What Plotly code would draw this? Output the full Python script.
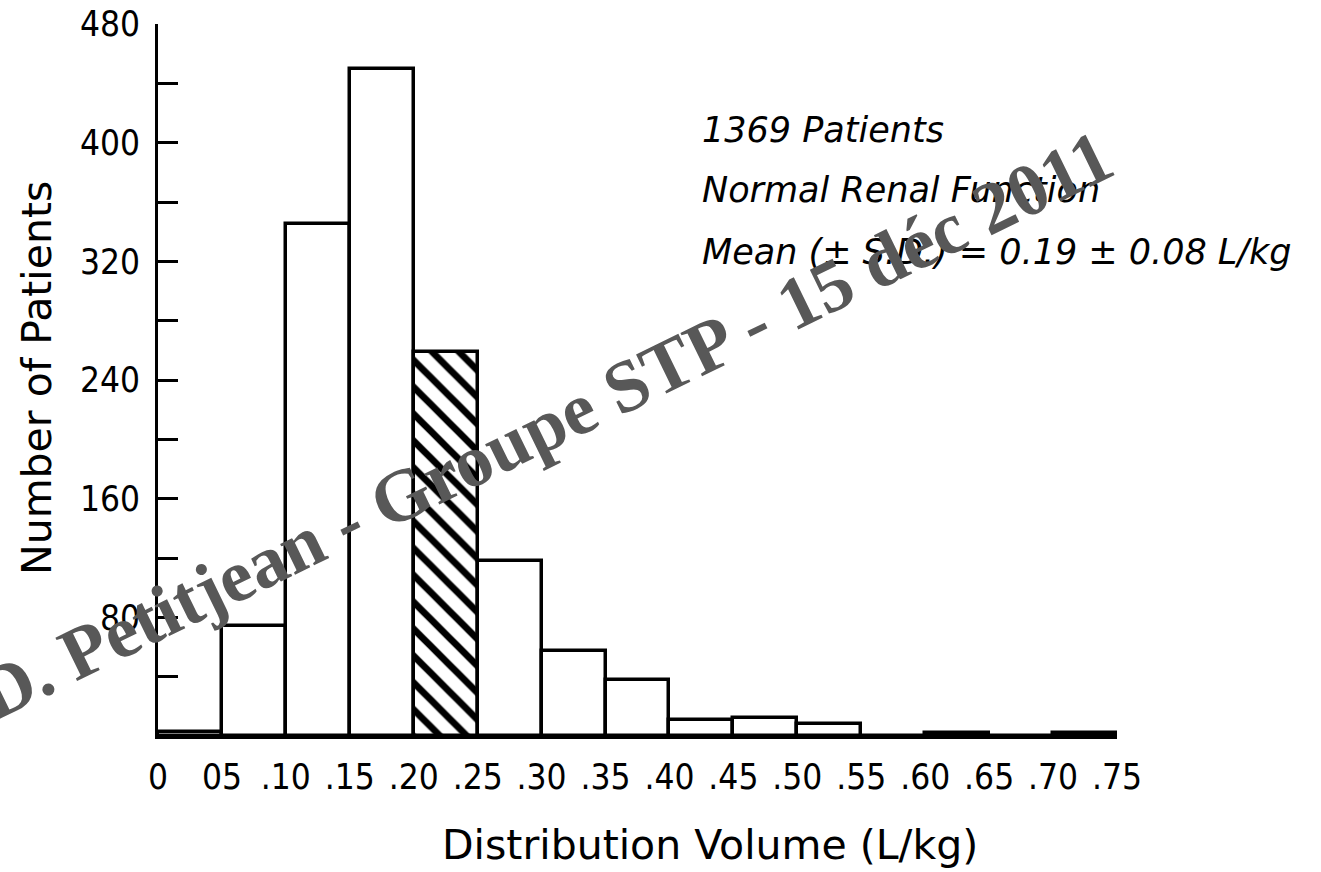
import plotly.graph_objects as go

# Data
bin_starts = [0.00, 0.05, 0.10, 0.15, 0.20, 0.25, 0.30, 0.35, 0.40, 0.45, 0.50, 0.55, 0.60, 0.65, 0.70]
counts = [3, 74, 345, 450, 259, 118, 57, 38, 11, 12, 8, 0, 2, 0, 2]
hatched = [False, False, False, False, True, False, False, False, False, False, False, False, False, False, False]
bin_width = 0.05

x_tickvals = [0.00, 0.05, 0.10, 0.15, 0.20, 0.25, 0.30, 0.35, 0.40, 0.45, 0.50, 0.55, 0.60, 0.65, 0.70, 0.75]
x_ticktext = ["0", "05", ".10", ".15", ".20", ".25", ".30", ".35", ".40", ".45", ".50", ".55", ".60", ".65", ".70", ".75"]
y_tickvals = [0, 40, 80, 120, 160, 200, 240, 280, 320, 360, 400, 440, 480]
y_ticktext = ["", "", "80", "", "160", "", "240", "", "320", "", "400", "", "480"]

info_lines = ["1369 Patients", "Normal Renal Function", "Mean (\u00b1 S.D.) = 0.19 \u00b1 0.08 L/kg"]
watermark = "D. Petitjean - Groupe STP - 15 d\u00e9c 2011"

W, H = 1321, 872
L, R, T, B = 158, 1117, 24, 736

def px(x):
    return (x - L) / (R - L)

def py(y):
    return (B - y) / (B - T)

centers = [s + bin_width / 2 for s in bin_starts]

fig = go.Figure()
fig.add_trace(go.Bar(
    x=centers,
    y=counts,
    width=[bin_width] * len(counts),
    marker=dict(
        color="white",
        line=dict(color="black", width=3.5),
        pattern=dict(
            shape=["\\" if h else "" for h in hatched],
            fgcolor="#000000",
            fgopacity=1,
            bgcolor="white",
            size=19,
            solidity=0.36,
        ),
    ),
    cliponaxis=False,
    showlegend=False,
    hoverinfo="skip",
))

tick_font = dict(family="DejaVu Sans Condensed, Liberation Sans Narrow, sans-serif", size=35, color="black")

fig.update_layout(
    width=W, height=H, autosize=False,
    margin=dict(l=L, r=W - R, t=T, b=H - B),
    paper_bgcolor="white", plot_bgcolor="white",
    bargap=0,
    xaxis=dict(
        range=[0, 0.75], showgrid=False, zeroline=False, automargin=False,
        showline=True, linecolor="black", linewidth=3,
        tickmode="array", tickvals=x_tickvals, ticktext=x_ticktext,
        ticks="", tickfont=tick_font, ticklabelstandoff=8,
    ),
    yaxis=dict(
        range=[0, 480], showgrid=False, zeroline=False, automargin=False,
        showline=True, linecolor="black", linewidth=3,
        tickmode="array", tickvals=y_tickvals, ticktext=y_ticktext,
        ticks="inside", ticklen=20, tickwidth=2.5, tickcolor="black",
        tickfont=tick_font, ticklabelstandoff=8,
    ),
)

title_font = dict(family="DejaVu Sans, sans-serif", size=41, color="black")
fig.add_annotation(x=px(710), y=py(845), xref="paper", yref="paper",
                   text="Distribution Volume (L/kg)", showarrow=False,
                   font=title_font, xanchor="center", yanchor="middle")
fig.add_annotation(x=px(37), y=py(378), xref="paper", yref="paper",
                   text="Number of Patients", showarrow=False, textangle=-90,
                   font=title_font, xanchor="center", yanchor="middle")

info_y = [130, 190, 252]
for line, yy in zip(info_lines, info_y):
    fig.add_annotation(x=px(700), y=py(yy), xref="paper", yref="paper",
                       text="<i>" + line + "</i>", showarrow=False,
                       font=dict(family="DejaVu Sans, sans-serif", size=35, color="black"),
                       xanchor="left", yanchor="middle")

fig.add_annotation(x=px(545), y=py(425), xref="paper", yref="paper",
                   text="<b>" + watermark + "</b>", showarrow=False, textangle=-26,
                   font=dict(family="Liberation Serif, Times New Roman, serif", size=74, color="#585858"),
                   xanchor="center", yanchor="middle")

fig.write_html("out.html")
